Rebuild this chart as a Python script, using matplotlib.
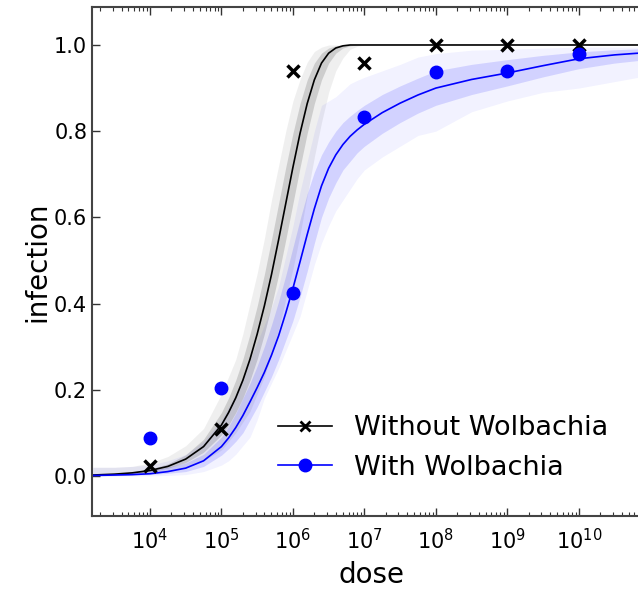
import numpy as np
import matplotlib
matplotlib.use("Agg")
from matplotlib import pyplot as plt
from matplotlib.lines import Line2D

# observed data
doses = [1e4, 1e5, 1e6, 1e7, 1e8, 1e9, 1e10]
without_obs = [0.023, 0.109, 0.94, 0.958, 1.0, 1.0, 1.0]
with_obs = [0.088, 0.204, 0.425, 0.833, 0.937, 0.94, 0.979]

log_grid = [3.2, 3.5, 3.75, 4.0, 4.25, 4.5, 4.75, 5.0, 5.1, 5.2, 5.3, 5.4, 5.5, 5.6, 5.7, 5.8, 5.9,
            6.0, 6.1, 6.2, 6.3, 6.4, 6.5, 6.6, 6.7, 6.8, 6.9, 7.0, 7.25, 7.5, 7.75, 8.0, 8.5,
            9.0, 9.5, 10.0, 10.5, 11.0]

without_fit = [0.002, 0.004, 0.007, 0.0125, 0.022, 0.039, 0.068, 0.118, 0.147, 0.181, 0.222, 0.271,
               0.329, 0.394, 0.467, 0.548, 0.632, 0.716, 0.795, 0.864, 0.919, 0.958, 0.981, 0.993,
               0.998, 1.0, 1.0, 1.0, 1.0, 1.0, 1.0, 1.0, 1.0, 1.0, 1.0, 1.0, 1.0, 1.0]
without_in_hi = [0.0025, 0.005, 0.009, 0.016, 0.028, 0.049, 0.085, 0.147, 0.181, 0.222, 0.271, 0.329,
                 0.394, 0.467, 0.548, 0.632, 0.716, 0.795, 0.864, 0.919, 0.958, 0.981, 0.993, 0.998,
                 1.0, 1.0, 1.0, 1.0, 1.0, 1.0, 1.0, 1.0, 1.0, 1.0, 1.0, 1.0, 1.0, 1.0]
without_in_lo = [0.0016, 0.003, 0.0056, 0.01, 0.018, 0.031, 0.055, 0.095, 0.118, 0.147, 0.181, 0.222,
                 0.271, 0.329, 0.394, 0.467, 0.548, 0.632, 0.716, 0.795, 0.864, 0.919, 0.958, 0.981,
                 0.993, 0.998, 1.0, 1.0, 1.0, 1.0, 1.0, 1.0, 1.0, 1.0, 1.0, 1.0, 1.0, 1.0]
without_out_hi = [0.02, 0.02, 0.022, 0.03, 0.045, 0.07, 0.11, 0.19, 0.23, 0.27, 0.33, 0.4,
                  0.47, 0.55, 0.64, 0.72, 0.8, 0.87, 0.92, 0.96, 0.985, 0.995, 1.0, 1.0,
                  1.0, 1.0, 1.0, 1.0, 1.0, 1.0, 1.0, 1.0, 1.0, 1.0, 1.0, 1.0, 1.0, 1.0]
without_out_lo = [0.0, 0.0, 0.002, 0.005, 0.01, 0.02, 0.035, 0.06, 0.08, 0.1, 0.125, 0.15,
                  0.19, 0.23, 0.28, 0.34, 0.41, 0.48, 0.56, 0.65, 0.74, 0.82, 0.89, 0.94,
                  0.97, 0.99, 0.997, 1.0, 1.0, 1.0, 1.0, 1.0, 1.0, 1.0, 1.0, 1.0, 1.0, 1.0]

with_fit = [0.001, 0.002, 0.003, 0.005, 0.01, 0.018, 0.035, 0.068, 0.088, 0.112, 0.14, 0.172,
            0.205, 0.24, 0.28, 0.325, 0.378, 0.435, 0.497, 0.56, 0.62, 0.673, 0.714, 0.745,
            0.769, 0.788, 0.803, 0.816, 0.843, 0.865, 0.884, 0.90, 0.92, 0.935, 0.952, 0.968,
            0.977, 0.983]
with_in_hi = [0.003, 0.005, 0.008, 0.012, 0.02, 0.03, 0.05, 0.09, 0.115, 0.145, 0.18, 0.215,
              0.255, 0.3, 0.35, 0.405, 0.465, 0.53, 0.595, 0.655, 0.705, 0.745, 0.775, 0.8,
              0.82, 0.835, 0.848, 0.86, 0.885, 0.905, 0.923, 0.94, 0.955, 0.966, 0.976, 0.984,
              0.989, 0.992]
with_in_lo = [0.0, 0.001, 0.002, 0.003, 0.006, 0.01, 0.022, 0.048, 0.063, 0.08, 0.1, 0.13,
              0.16, 0.195, 0.23, 0.27, 0.315, 0.36, 0.415, 0.475, 0.54, 0.6, 0.645, 0.68,
              0.71, 0.73, 0.75, 0.765, 0.795, 0.82, 0.842, 0.86, 0.885, 0.905, 0.926, 0.945,
              0.958, 0.967]
with_out_hi = [0.02, 0.02, 0.022, 0.025, 0.035, 0.05, 0.08, 0.13, 0.16, 0.19, 0.23, 0.27,
               0.31, 0.35, 0.39, 0.44, 0.51, 0.58, 0.66, 0.73, 0.8, 0.86, 0.87, 0.88,
               0.895, 0.91, 0.918, 0.925, 0.94, 0.955, 0.972, 0.98, 0.988, 0.99, 0.993, 0.995,
               0.995, 0.995]
with_out_lo = [0.0, 0.0, 0.0, 0.0, 0.001, 0.003, 0.01, 0.025, 0.035, 0.05, 0.07, 0.09,
               0.13, 0.18, 0.215, 0.25, 0.29, 0.33, 0.37, 0.43, 0.49, 0.54, 0.58, 0.615,
               0.64, 0.665, 0.69, 0.71, 0.74, 0.765, 0.79, 0.80, 0.845, 0.87, 0.89, 0.9,
               0.915, 0.93]

x = 10 ** np.array(log_grid)

fig = plt.figure(figsize=(6.38, 5.89), dpi=100)
ax = fig.add_axes([0.1442, 0.124, 0.875, 0.864])

# bands first, then curves, then data
ax.fill_between(x, without_out_lo, without_out_hi, color="gray", alpha=0.12, lw=0)
ax.fill_between(x, without_in_lo, without_in_hi, color="gray", alpha=0.3, lw=0)
ax.fill_between(x, with_out_lo, with_out_hi, color="blue", alpha=0.05, lw=0)
ax.fill_between(x, with_in_lo, with_in_hi, color="blue", alpha=0.13, lw=0)

ax.plot(x, without_fit, color="black", lw=1.2)
ax.plot(x, with_fit, color="blue", lw=1.2)
ax.plot(doses, without_obs, "x", color="black", ms=9, mew=2.5)
ax.plot(doses, with_obs, "o", color="blue", ms=9)

ax.set_xscale("log")
ax.set_xlim(10 ** 3.189, 10 ** 11.0)
ax.set_ylim(-0.093, 1.088)
ax.set_xticks([1e4, 1e5, 1e6, 1e7, 1e8, 1e9, 1e10])
ax.set_yticks([0.0, 0.2, 0.4, 0.6, 0.8, 1.0])

ax.tick_params(which="both", direction="in", top=True, right=False, labelsize=15, colors="#333333",
               labelcolor="black")
ax.tick_params(which="major", length=6, width=1)
ax.tick_params(which="minor", length=3, width=0.8)
ax.tick_params(axis="x", which="major", pad=9)
for s in ax.spines.values():
    s.set_color("#444444")
    s.set_linewidth(1.5)

ax.set_xlabel("dose", fontsize=20, labelpad=5)
ax.set_ylabel("infection", fontsize=20, labelpad=2)

handles = [Line2D([], [], color="black", marker="x", ms=7, mew=2, lw=1.2),
           Line2D([], [], color="blue", marker="o", ms=9, lw=1.2)]
ax.legend(handles, ["Without Wolbachia", "With Wolbachia"], loc="lower left",
          bbox_to_anchor=(0.2895, 0.0216), frameon=False, fontsize=19.5, handlelength=2.0,
          handletextpad=0.8, labelspacing=0.5)

fig.savefig("out.png", dpi=100)
